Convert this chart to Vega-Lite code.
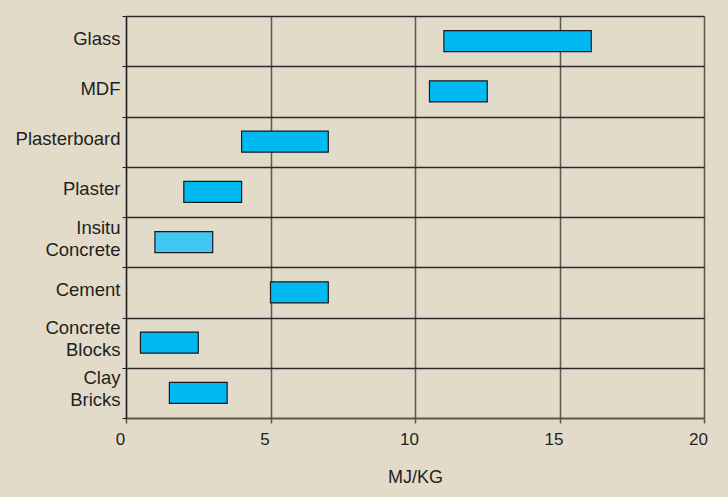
{
  "$schema": "https://vega.github.io/schema/vega-lite/v6.json",
  "width": 578,
  "height": 402,
  "autosize": {"type": "none"},
  "padding": {"left": 126, "top": 16, "right": 24, "bottom": 79},
  "background": "#e2dbca",
  "config": {
    "font": "Liberation Sans",
    "view": {"stroke": null},
    "axis": {
      "labelFont": "Liberation Sans",
      "titleFont": "Liberation Sans",
      "labelFontSize": 17,
      "titleFontSize": 18,
      "labelColor": "#231f20",
      "titleColor": "#231f20",
      "titleFontWeight": "normal"
    }
  },
  "data": {
    "values": [
      {"material": "Glass", "low": 11, "high": 16.1, "tone": "a"},
      {"material": "MDF", "low": 10.5, "high": 12.5, "tone": "a"},
      {"material": "Plasterboard", "low": 4, "high": 7, "tone": "a"},
      {"material": "Plaster", "low": 2, "high": 4, "tone": "a"},
      {"material": "Insitu Concrete", "low": 1, "high": 3, "tone": "b"},
      {"material": "Cement", "low": 5, "high": 7, "tone": "a"},
      {"material": "Concrete Blocks", "low": 0.5, "high": 2.5, "tone": "a"},
      {"material": "Clay Bricks", "low": 1.5, "high": 3.5, "tone": "a"}
    ]
  },
  "mark": {
    "type": "bar",
    "height": {"band": 0.42},
    "stroke": "#1a1a1a",
    "strokeWidth": 1.2,
    "cornerRadius": 0
  },
  "encoding": {
    "y": {
      "field": "material",
      "type": "nominal",
      "sort": null,
      "scale": {"paddingInner": 0, "paddingOuter": 0},
      "axis": {
        "title": null,
        "tickBand": "extent",
        "grid": true,
        "gridColor": "#2a2a2a",
        "gridWidth": 1.3,
        "domainColor": "#1a1a1a",
        "domainWidth": 1.3,
        "tickColor": "#1a1a1a",
        "tickSize": 4,
        "labelPadding": 2,
        "labelFontSize": 18.5,
        "labelLineHeight": 22,
        "labelOffset": {
          "condition": {"test": "indexof(datum.label, ' ') >= 0", "value": -15},
          "value": -3
        },
        "labelExpr": "split(datum.label, ' ')"
      }
    },
    "x": {
      "field": "low",
      "type": "quantitative",
      "scale": {"domain": [0, 20], "nice": false},
      "axis": {
        "title": "MJ/KG",
        "values": [0, 5, 10, 15, 20],
        "grid": true,
        "gridColor": "#5a5650",
        "gridWidth": 1.5,
        "domainColor": "#5a5650",
        "domainWidth": 1.5,
        "tickColor": "#5a5650",
        "tickWidth": 1.5,
        "tickSize": 5,
        "labelPadding": 8,
        "labelFlush": false,
        "labelOffset": -6,
        "titlePadding": 21
      }
    },
    "x2": {"field": "high"},
    "color": {
      "field": "tone",
      "type": "nominal",
      "scale": {"domain": ["a", "b"], "range": ["#00b9f1", "#42c7f2"]},
      "legend": null
    }
  }
}
